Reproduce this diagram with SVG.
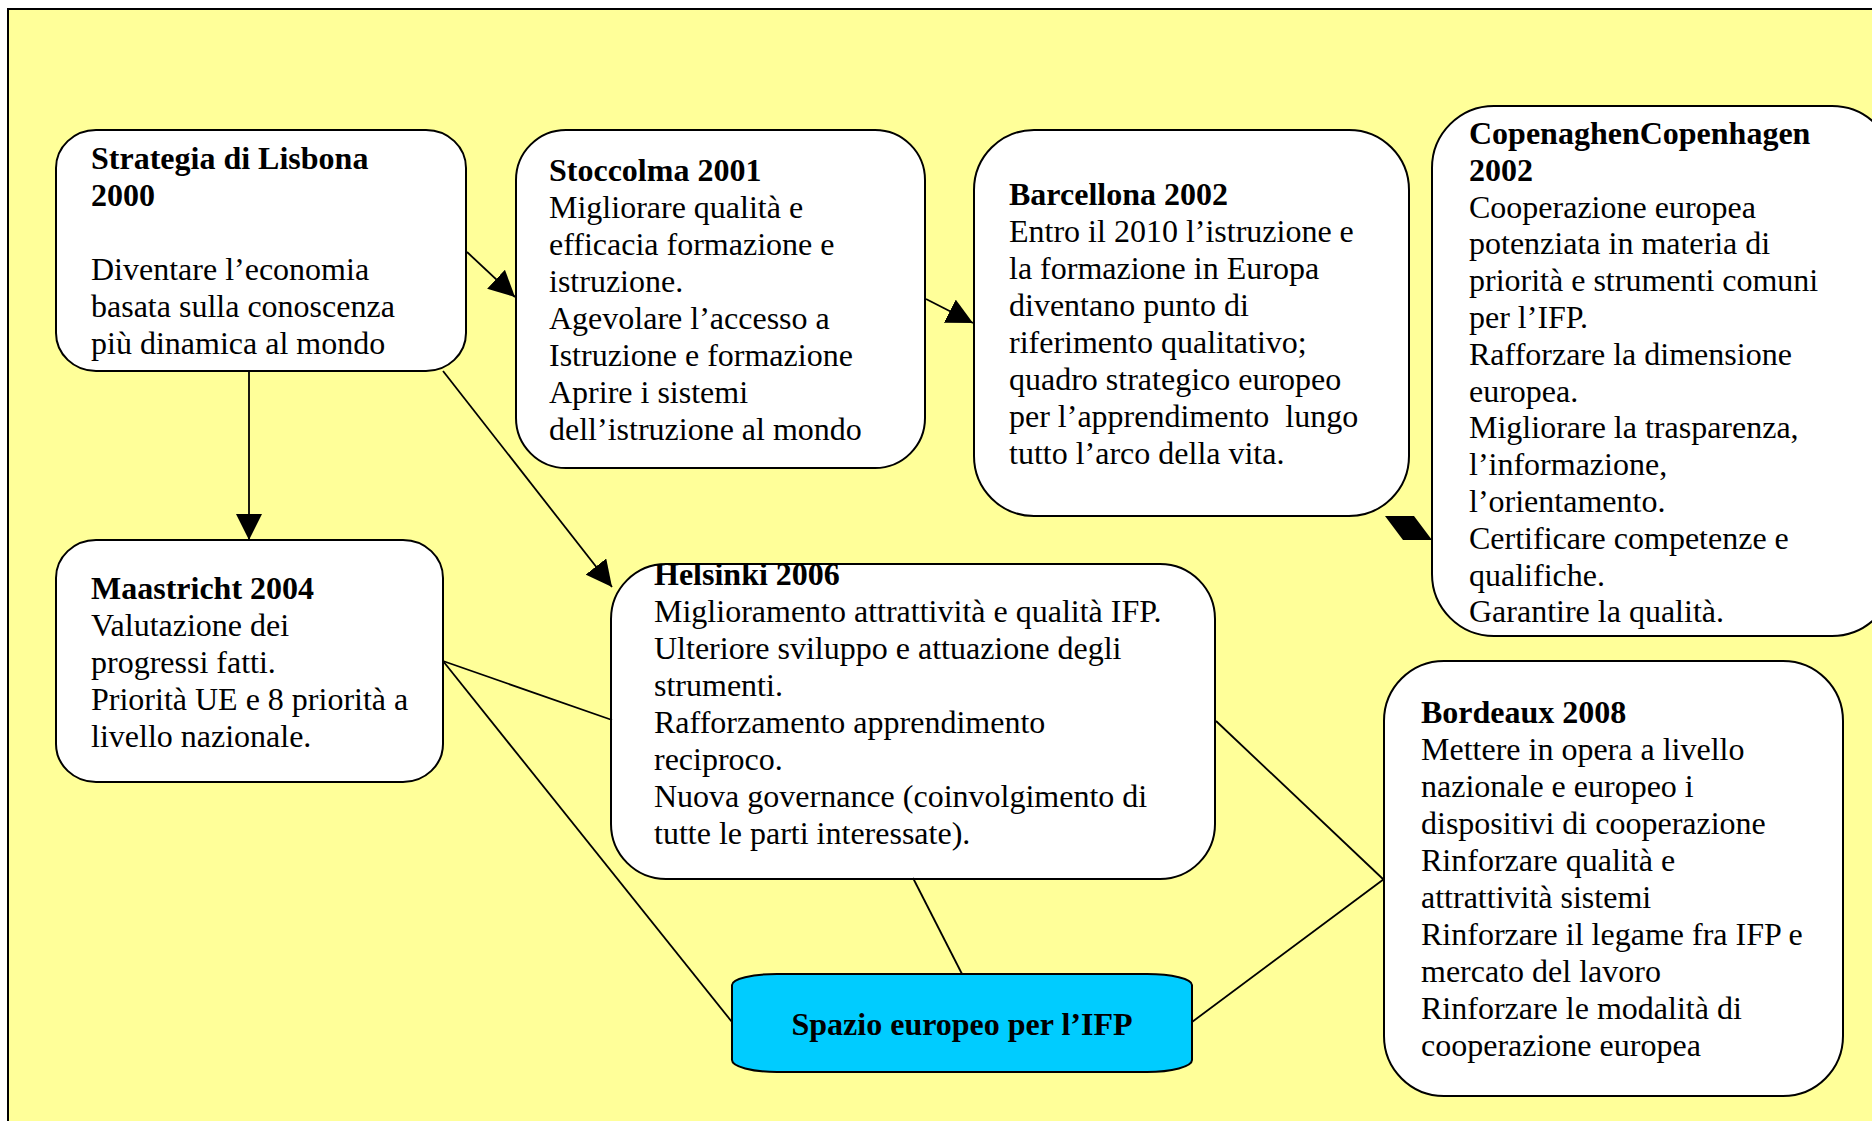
<svg xmlns="http://www.w3.org/2000/svg" width="1872" height="1121" viewBox="0 0 1872 1121">
<style>
.box{fill:#ffffff;stroke:#000000;stroke-width:2}
.t{font-family:"Liberation Serif","Times New Roman",serif;font-size:32px;fill:#000000}
.b{font-weight:bold}
.c{stroke:#000000;stroke-width:1.8;fill:none}
</style>
<defs>
<marker id="ah" markerUnits="userSpaceOnUse" markerWidth="26" markerHeight="26" refX="26" refY="13" orient="auto">
<path d="M0,0 L26,13 L0,26 Z" fill="#000000"/>
</marker>
</defs>
<rect x="0" y="0" width="1872" height="1121" fill="#ffffff"/>
<rect x="8" y="9" width="1900" height="1200" fill="#FFFF99" stroke="#000000" stroke-width="2"/>

<g id="lisbona">
<rect class="box" x="56" y="130" width="410" height="241" rx="40" ry="38"/>
<text class="t"><tspan class="b" x="91" y="169">Strategia di Lisbona</tspan><tspan class="b" x="91" y="206">2000</tspan><tspan x="91" y="280">Diventare l’economia</tspan><tspan x="91" y="317">basata sulla conoscenza</tspan><tspan x="91" y="354">più dinamica al mondo</tspan></text>
</g>

<g id="stoccolma">
<rect class="box" x="516" y="130" width="409" height="338" rx="50" ry="50"/>
<text class="t"><tspan class="b" x="549" y="181">Stoccolma 2001</tspan><tspan x="549" y="218">Migliorare qualità e</tspan><tspan x="549" y="255">efficacia formazione e</tspan><tspan x="549" y="292">istruzione.</tspan><tspan x="549" y="329">Agevolare l’accesso a</tspan><tspan x="549" y="366">Istruzione e formazione</tspan><tspan x="549" y="403">Aprire i sistemi</tspan><tspan x="549" y="440">dell’istruzione al mondo</tspan></text>
</g>

<g id="barcellona">
<rect class="box" x="974" y="130" width="435" height="386" rx="60" ry="60"/>
<text class="t"><tspan class="b" x="1009" y="205">Barcellona 2002</tspan><tspan x="1009" y="242">Entro il 2010 l’istruzione e</tspan><tspan x="1009" y="279">la formazione in Europa</tspan><tspan x="1009" y="316">diventano punto di</tspan><tspan x="1009" y="353">riferimento qualitativo;</tspan><tspan x="1009" y="390">quadro strategico europeo</tspan><tspan x="1009" y="427">per l’apprendimento&#160; lungo</tspan><tspan x="1009" y="464">tutto l’arco della vita.</tspan></text>
</g>

<g id="copenaghen">
<rect class="box" x="1432" y="106" width="462" height="530" rx="62" ry="62"/>
<text class="t"><tspan class="b" x="1469" y="144">CopenaghenCopenhagen</tspan><tspan class="b" x="1469" y="181">2002</tspan><tspan x="1469" y="217.6">Cooperazione europea</tspan><tspan x="1469" y="254.4">potenziata in materia di</tspan><tspan x="1469" y="291.2">priorità e strumenti comuni</tspan><tspan x="1469" y="328">per l’IFP.</tspan><tspan x="1469" y="364.8">Rafforzare la dimensione</tspan><tspan x="1469" y="401.6">europea.</tspan><tspan x="1469" y="438.4">Migliorare la trasparenza,</tspan><tspan x="1469" y="475.2">l’informazione,</tspan><tspan x="1469" y="512">l’orientamento.</tspan><tspan x="1469" y="548.8">Certificare competenze e</tspan><tspan x="1469" y="585.6">qualifiche.</tspan><tspan x="1469" y="622.4">Garantire la qualità.</tspan></text>
</g>

<g id="maastricht">
<rect class="box" x="56" y="540" width="387" height="242" rx="40" ry="38"/>
<text class="t"><tspan class="b" x="91" y="599">Maastricht 2004</tspan><tspan x="91" y="636">Valutazione dei</tspan><tspan x="91" y="673">progressi fatti.</tspan><tspan x="91" y="710">Priorità UE e 8 priorità a</tspan><tspan x="91" y="747">livello nazionale.</tspan></text>
</g>

<g id="helsinki">
<rect class="box" x="611" y="564" width="604" height="315" rx="55" ry="55"/>
<text class="t"><tspan class="b" x="654" y="585">Helsinki 2006</tspan><tspan x="654" y="622">Miglioramento attrattività e qualità IFP.</tspan><tspan x="654" y="659">Ulteriore sviluppo e attuazione degli</tspan><tspan x="654" y="696">strumenti.</tspan><tspan x="654" y="733">Rafforzamento apprendimento</tspan><tspan x="654" y="770">reciproco.</tspan><tspan x="654" y="807">Nuova governance (coinvolgimento di</tspan><tspan x="654" y="844">tutte le parti interessate).</tspan></text>
</g>

<g id="bordeaux">
<rect class="box" x="1384" y="661" width="459" height="435" rx="60" ry="60"/>
<text class="t"><tspan class="b" x="1421" y="723">Bordeaux 2008</tspan><tspan x="1421" y="760">Mettere in opera a livello</tspan><tspan x="1421" y="797">nazionale e europeo i</tspan><tspan x="1421" y="834">dispositivi di cooperazione</tspan><tspan x="1421" y="871">Rinforzare qualità e</tspan><tspan x="1421" y="908">attrattività sistemi</tspan><tspan x="1421" y="945">Rinforzare il legame fra IFP e</tspan><tspan x="1421" y="982">mercato del lavoro</tspan><tspan x="1421" y="1019">Rinforzare le modalità di</tspan><tspan x="1421" y="1056">cooperazione europea</tspan></text>
</g>

<g id="spazio">
<path d="M732,985 A45,11 0 0 1 777,974 H1147 A45,11 0 0 1 1192,985 V1060 A45,12 0 0 1 1147,1072 H777 A45,12 0 0 1 732,1060 Z" fill="#00CCFF" stroke="#000000" stroke-width="2"/>
<text class="t b" x="962" y="1035" text-anchor="middle">Spazio europeo per l’IFP</text>
</g>

<g id="connectors">
<line class="c" x1="467" y1="252" x2="515" y2="297" marker-end="url(#ah)"/>
<line class="c" x1="926" y1="299" x2="973" y2="323" marker-end="url(#ah)"/>
<line class="c" x1="249" y1="371" x2="249" y2="540" marker-end="url(#ah)"/>
<line class="c" x1="443" y1="371" x2="612" y2="587" marker-end="url(#ah)"/>
<polygon points="1385,516 1414,516 1432,540 1403,540" fill="#000000"/>
<line class="c" x1="443" y1="661" x2="612" y2="720"/>
<line class="c" x1="443" y1="661" x2="732" y2="1022"/>
<line class="c" x1="913" y1="878" x2="962" y2="974"/>
<line class="c" x1="1216" y1="721" x2="1384" y2="880"/>
<line class="c" x1="1192" y1="1022" x2="1384" y2="879"/>
</g>
</svg>
